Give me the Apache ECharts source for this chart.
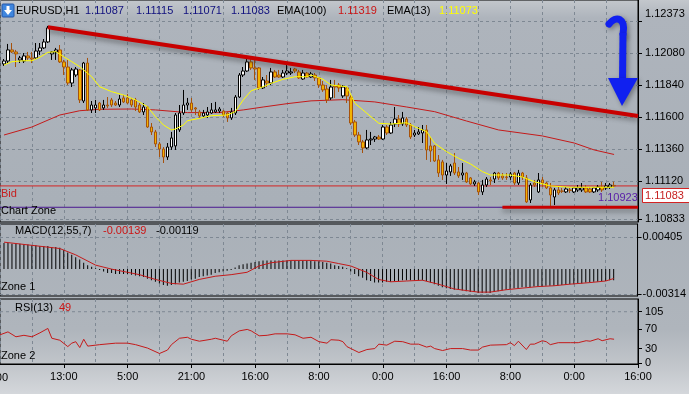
<!DOCTYPE html>
<html>
<head>
<meta charset="utf-8">
<script src="https://cdn.jsdelivr.net/npm/echarts@6/dist/echarts.min.js"></script>
<style>
html,body{margin:0;padding:0;}
body{width:689px;height:394px;overflow:hidden;
background:linear-gradient(to bottom,#c3c7cc 0px,#aeb4bc 18px,#a9b0b8 200px,#afb5bc 330px,#c2c6cb 366px,#d4d7db 394px);}
#chart{width:689px;height:394px;}
</style>
</head>
<body>
<div id="chart"></div>
<script>
// ---------------- DATA ----------------
const symbolName = 'EURUSD,H1';
// x tick labels, one every 16 hourly bars
const timeTickLabels = ['21:00','13:00','5:00','21:00','16:00','8:00','0:00','16:00','8:00','0:00','16:00'];
// price-axis labels and grid levels
const priceLabels = [1.12373, 1.12080, 1.11840, 1.11600, 1.11360, 1.11120, 1.10833];
const priceGrid   = [1.12320, 1.12080, 1.11840, 1.11600, 1.11360, 1.11120, 1.10833];
const macdLabels = [0.00405, -0.00314];
const rsiLabels = [105, 70, 30, 0];
const rsiGridLevel = 105;

// candles: [open, close, low, high]
const candles = [
[1.11998,1.12020,1.11983,1.12035],[1.12020,1.12103,1.12005,1.12148],[1.12103,1.12088,1.12080,1.12155],[1.12088,1.12073,1.11975,1.12103],
[1.12028,1.12043,1.12005,1.12058],[1.12020,1.12058,1.12005,1.12080],[1.12058,1.12043,1.12028,1.12088],[1.12043,1.12035,1.12005,1.12088],
[1.12043,1.12095,1.12035,1.12155],[1.12095,1.12118,1.12065,1.12155],[1.12118,1.12163,1.12110,1.12185],[1.12163,1.12268,1.12155,1.12283],
[1.12073,1.12088,1.12028,1.12095],[1.12088,1.12103,1.12028,1.12118],[1.12103,1.12013,1.12005,1.12140],[1.12013,1.11975,1.11915,1.12028],
[1.11975,1.11855,1.11840,1.12028],[1.11855,1.11953,1.11825,1.11968],[1.11915,1.11960,1.11900,1.11975],[1.11953,1.11728,1.11705,1.11960],
[1.11720,1.12005,1.11705,1.12013],[1.12005,1.11653,1.11645,1.12043],[1.11653,1.11690,1.11630,1.11720],[1.11668,1.11690,1.11630,1.11728],
[1.11705,1.11653,1.11645,1.11713],[1.11668,1.11690,1.11653,1.11728],[1.11690,1.11683,1.11668,1.11750],[1.11728,1.11690,1.11675,1.11743],
[1.11705,1.11690,1.11683,1.11720],[1.11690,1.11735,1.11675,1.11765],[1.11743,1.11713,1.11705,1.11765],[1.11743,1.11705,1.11698,1.11773],
[1.11728,1.11690,1.11675,1.11743],[1.11728,1.11675,1.11645,1.11743],[1.11690,1.11638,1.11630,1.11705],[1.11638,1.11675,1.11615,1.11705],
[1.11675,1.11525,1.11518,1.11683],[1.11525,1.11488,1.11465,1.11555],[1.11488,1.11398,1.11375,1.11503],[1.11398,1.11360,1.11300,1.11413],
[1.11360,1.11300,1.11255,1.11375],[1.11300,1.11375,1.11278,1.11405],[1.11375,1.11443,1.11353,1.11488],[1.11383,1.11615,1.11353,1.11630],
[1.11503,1.11630,1.11488,1.11690],[1.11630,1.11690,1.11615,1.11803],[1.11690,1.11705,1.11653,1.11743],[1.11705,1.11653,1.11638,1.11743],
[1.11668,1.11660,1.11615,1.11675],[1.11638,1.11608,1.11593,1.11653],[1.11608,1.11630,1.11593,1.11653],[1.11615,1.11638,1.11593,1.11675],
[1.11630,1.11653,1.11623,1.11705],[1.11638,1.11653,1.11630,1.11713],[1.11645,1.11660,1.11630,1.11675],[1.11645,1.11615,1.11600,1.11653],
[1.11630,1.11593,1.11563,1.11638],[1.11593,1.11638,1.11578,1.11668],[1.11630,1.11750,1.11615,1.11765],[1.11750,1.11915,1.11743,1.11930],
[1.11915,1.11945,1.11900,1.11975],[1.11945,1.12013,1.11938,1.12043],[1.12013,1.11968,1.11953,1.12035],[1.11968,1.11960,1.11878,1.12028],
[1.11968,1.11818,1.11803,1.11975],[1.11818,1.11878,1.11810,1.11900],[1.11870,1.11855,1.11825,1.11915],[1.11855,1.11938,1.11840,1.11968],
[1.11938,1.11900,1.11893,1.11953],[1.11915,1.11900,1.11893,1.11953],[1.11900,1.11930,1.11893,1.11953],[1.11930,1.11945,1.11915,1.11990],
[1.11930,1.11938,1.11915,1.11968],[1.11960,1.11945,1.11930,1.11968],[1.11938,1.11893,1.11885,1.11953],[1.11885,1.11930,1.11878,1.11953],
[1.11930,1.11900,1.11893,1.11938],[1.11900,1.11923,1.11893,1.11938],[1.11915,1.11893,1.11870,1.11930],[1.11893,1.11840,1.11818,1.11900],
[1.11840,1.11803,1.11788,1.11870],[1.11810,1.11728,1.11705,1.11840],[1.11743,1.11825,1.11728,1.11878],[1.11833,1.11825,1.11743,1.11878],
[1.11840,1.11818,1.11788,1.11855],[1.11758,1.11825,1.11743,1.11840],[1.11818,1.11758,1.11705,1.11825],[1.11750,1.11555,1.11540,1.11765],
[1.11563,1.11465,1.11450,1.11578],[1.11465,1.11413,1.11390,1.11488],[1.11413,1.11368,1.11330,1.11428],[1.11368,1.11428,1.11360,1.11503],
[1.11428,1.11435,1.11390,1.11488],[1.11435,1.11450,1.11413,1.11458],[1.11450,1.11435,1.11428,1.11465],[1.11435,1.11525,1.11428,1.11540],
[1.11525,1.11480,1.11465,1.11540],[1.11480,1.11540,1.11473,1.11563],[1.11548,1.11585,1.11525,1.11675],[1.11585,1.11548,1.11525,1.11615],
[1.11548,1.11593,1.11533,1.11638],[1.11585,1.11540,1.11525,1.11600],[1.11540,1.11450,1.11435,1.11555],[1.11465,1.11480,1.11450,1.11503],
[1.11473,1.11488,1.11465,1.11525],[1.11480,1.11503,1.11405,1.11540],[1.11503,1.11353,1.11278,1.11540],[1.11383,1.11345,1.11263,1.11450],
[1.11383,1.11270,1.11263,1.11390],[1.11278,1.11180,1.11150,1.11315],[1.11263,1.11165,1.11128,1.11278],[1.11165,1.11195,1.11098,1.11255],
[1.11188,1.11233,1.11158,1.11248],[1.11255,1.11180,1.11165,1.11330],[1.11188,1.11158,1.11143,1.11225],[1.11165,1.11180,1.11128,1.11255],
[1.11180,1.11113,1.11105,1.11188],[1.11143,1.11098,1.11090,1.11150],[1.11098,1.11113,1.11083,1.11128],[1.11105,1.11038,1.11015,1.11113],
[1.11038,1.11090,1.11015,1.11128],[1.11090,1.11135,1.11075,1.11150],[1.11128,1.11120,1.11090,1.11150],[1.11135,1.11180,1.11105,1.11188],
[1.11180,1.11143,1.11128,1.11188],[1.11158,1.11143,1.11128,1.11180],[1.11150,1.11147,1.11128,1.11180],[1.11150,1.11173,1.11128,1.11188],
[1.11180,1.11105,1.11090,1.11188],[1.11105,1.11180,1.11090,1.11203],[1.11180,1.11150,1.11128,1.11188],[1.11143,1.10963,1.10955,1.11165],
[1.10978,1.11090,1.10955,1.11105],[1.11105,1.11090,1.11075,1.11128],[1.11038,1.11128,1.11030,1.11180],[1.11128,1.11105,1.11075,1.11150],
[1.11105,1.11068,1.11060,1.11113],[1.11068,1.11015,1.10933,1.11105],[1.11000,1.11053,1.10940,1.11068],[1.11053,1.11030,1.11015,1.11075],
[1.11045,1.11043,1.11030,1.11068],[1.11038,1.11060,1.11030,1.11075],[1.11053,1.11050,1.11030,1.11068],[1.11038,1.11068,1.11030,1.11075],
[1.11053,1.11068,1.11038,1.11090],[1.11053,1.11068,1.11038,1.11105],[1.11068,1.11038,1.11030,1.11090],[1.11060,1.11038,1.11030,1.11075],
[1.11038,1.11068,1.11030,1.11075],[1.11053,1.11075,1.11038,1.11090],[1.11075,1.11053,1.11038,1.11113],[1.11068,1.11083,1.11053,1.11105],
[1.11075,1.11090,1.11060,1.11105],[1.11087,1.11083,1.11071,1.11115]
];
// EMA(100) read at selected bars: [barIndex, value]
const ema100 = [[1,1.11465],[8,1.11525],[15,1.11615],[20,1.11647],[25,1.11658],[33,1.11660],[39,1.11653],[47,1.11633],[55,1.11633],
[61,1.11653],[66,1.11675],[72,1.11700],[78,1.11721],[86,1.11730],[94,1.11713],[102,1.11675],[109,1.11640],[117,1.11570],[125,1.11503],
[136,1.11458],[144,1.11405],[149,1.11353],[154,1.11319]];
// EMA(13)
const ema13 = [[1,1.11990],[3,1.12015],[6,1.12022],[8,1.12022],[10,1.12048],[12,1.12085],[14,1.12090],[16,1.12052],[18,1.12015],
[20,1.11977],[23,1.11902],[25,1.11827],[28,1.11790],[31,1.11765],[34,1.11728],[37,1.11677],[39,1.11602],[41,1.11540],[43,1.11503],
[44,1.11510],[46,1.11540],[47,1.11572],[50,1.11590],[53,1.11610],[57,1.11615],[59,1.11640],[61,1.11728],[63,1.11797],[66,1.11827],
[68,1.11853],[71,1.11883],[74,1.11902],[77,1.11902],[78,1.11915],[81,1.11883],[83,1.11840],[87,1.11827],[89,1.11703],[92,1.11628],
[95,1.11553],[98,1.11547],[102,1.11557],[104,1.11527],[107,1.11490],[109,1.11403],[112,1.11340],[115,1.11290],[118,1.11248],
[121,1.11190],[123,1.11165],[128,1.11165],[131,1.11150],[134,1.11115],[138,1.11083],[143,1.11073],[148,1.11073],[154,1.11073]];
// hand-drawn / level lines
const trendLine = [[12,1.12273],[160,1.11607]];
const supportLevel = 1.10923;
const supportLine = [[126,supportLevel],[160,supportLevel]];
const bidPrice = 1.11083;
const fullSpan = [0, 160];
// MACD(12,55,7) histogram, one per bar
const macdHist = [
0.0033,0.0033,0.0032,0.0032,0.0032,0.0031,0.0031,0.0030,0.0030,0.0029,
0.0029,0.0029,0.0028,0.0028,0.0027,0.0024,0.0021,0.0018,0.0015,0.0012,
0.0008,0.0005,0.0003,0.0001,-0.0001,-0.0003,-0.0005,-0.0005,-0.0006,-0.0006,
-0.0006,-0.0006,-0.0007,-0.0008,-0.0009,-0.0010,-0.0012,-0.0014,-0.0016,-0.0018,
-0.0020,-0.0021,-0.0020,-0.0019,-0.0017,-0.0016,-0.0015,-0.0013,-0.0012,-0.0010,
-0.0009,-0.0008,-0.0007,-0.0005,-0.0004,-0.0003,-0.0002,-0.0001,0.0002,0.0005,
0.0006,0.0007,0.0008,0.0009,0.0010,0.0011,0.0011,0.0011,0.0011,0.0011,
0.0011,0.0011,0.0011,0.0011,0.0011,0.0011,0.0011,0.0011,0.0010,0.0010,
0.0009,0.0008,0.0007,0.0005,0.0004,0.0003,0.0001,-0.0003,-0.0006,-0.0009,
-0.0011,-0.0014,-0.0015,-0.0017,-0.0017,-0.0017,-0.0016,-0.0016,-0.0015,-0.0015,
-0.0014,-0.0014,-0.0014,-0.0014,-0.0014,-0.0014,-0.0015,-0.0017,-0.0019,-0.0021,
-0.0023,-0.0024,-0.0025,-0.0026,-0.0026,-0.0027,-0.0028,-0.0029,-0.0029,-0.0030,
-0.0030,-0.0030,-0.0030,-0.0029,-0.0028,-0.0027,-0.0026,-0.0025,-0.0024,-0.0024,
-0.0023,-0.0023,-0.0023,-0.0022,-0.0022,-0.0022,-0.0021,-0.0021,-0.0021,-0.0021,
-0.0020,-0.0020,-0.0019,-0.0019,-0.0018,-0.0018,-0.0017,-0.0017,-0.0016,-0.0016,
-0.0015,-0.0015,-0.0014,-0.00139];
const macdSignal = [[1,0.0034],[8,0.0030],[15,0.0026],[19,0.0018],[24,0.0005],[28,0.0],[32,-0.0004],[35,-0.0007],[39,-0.0013],
[43,-0.0018],[46,-0.0019],[50,-0.0013],[54,-0.0009],[58,-0.0007],[62,-0.0004],[65,0.0004],[68,0.0008],[73,0.0011],[78,0.0011],
[82,0.0010],[85,0.0007],[88,0.0004],[92,-0.0004],[95,-0.0013],[98,-0.0016],[102,-0.0015],[106,-0.0014],[110,-0.0019],[114,-0.0025],
[120,-0.0029],[123,-0.0029],[127,-0.0026],[131,-0.0024],[135,-0.0022],[139,-0.0021],[143,-0.0019],[148,-0.0017],[152,-0.0015],[154,-0.00119]];
// RSI(13)
const rsi = [[0,58],[2,64],[4,54],[6,57],[8,54],[10,62],[12,71],[13,51],[15,47],[17,34],[18,41],[19,44],[20,32],[21,49],[22,35],
[25,38],[29,41],[32,41],[34,38],[37,31],[40,20],[42,27],[43,38],[45,51],[47,53],[48,49],[50,45],[53,49],[54,51],[57,45],[58,56],
[60,66],[62,69],[63,66],[65,56],[67,57],[69,60],[72,60],[74,58],[76,51],[78,53],[80,44],[82,41],[83,48],[85,47],[86,44],[87,34],
[88,30],[90,22],[92,28],[94,30],[95,39],[97,37],[99,45],[101,44],[103,39],[105,39],[107,33],[108,35],[109,30],[111,26],[113,30],
[116,30],[118,27],[120,27],[121,33],[123,37],[127,38],[128,42],[129,36],[130,45],[132,28],[133,39],[134,39],[136,46],[137,44],
[138,38],[140,42],[143,42],[145,42],[147,46],[148,45],[150,50],[151,46],[153,50],[154,49]];

// ---------------- CHART ----------------
const N = 161; // category slots (bar 1..154 used)
const categories = Array.from({length: N}, (_, i) => String(i));
const candleData = categories.map((_, i) => (i >= 1 && i <= candles.length) ? candles[i-1] : '-');
const histData = categories.map((_, i) => (i >= 1 && i <= macdHist.length) ? macdHist[i-1] : '-');
// place [barIndex, value] readings on the category slots (other slots empty)
const place = (pairs) => { const a = categories.map(() => '-'); pairs.forEach(([k, v]) => { a[k] = v; }); return a; };
const level = (v) => place(fullSpan.map((k) => [k, v]));

const FONT = '"Liberation Sans", Arial, sans-serif';
const FS = 11;
const gridLine = {show: true, lineStyle: {color: '#7e8893', type: [3, 3], width: 1}};
const vSplit = {show: true, interval: (i) => i % 8 === 0, lineStyle: {color: '#7e8893', type: [3, 3], width: 1}};

function xAxisFor(gridIndex, bottom) {
  return {
    type: 'category', gridIndex, data: categories, boundaryGap: false,
    axisLine: {show: bottom, onZero: false, lineStyle: {color: '#000', width: 1}},
    axisTick: {show: bottom, interval: (i) => i % 16 === 0, length: 4, lineStyle: {color: '#000'}},
    axisLabel: {show: bottom, interval: (i) => i % 16 === 0, margin: 7, color: '#000', showMinLabel: false,
      fontFamily: FONT, fontSize: FS, formatter: (v, i) => timeTickLabels[Math.round(i / 16)] || ''},
    splitLine: vSplit
  };
}
function yAxisFor(gridIndex, min, max, ticks, labels, fmt, margin, split) {
  return {type: 'value', gridIndex, position: 'right', min, max,
    axisLine: {show: true, onZero: false, lineStyle: {color: '#000'}},
    axisTick: {show: true, customValues: ticks, length: 4, lineStyle: {color: '#000'}},
    axisLabel: {customValues: labels, formatter: fmt, color: '#000', fontFamily: FONT, fontSize: FS, margin},
    splitLine: split ? gridLine : {show: false}};
}

const last = candles[candles.length - 1];
const chart = echarts.init(document.getElementById('chart'), null, {renderer: 'canvas'});
const txt = (x, y, text, fill, align) => ({type: 'text', z: 100, x, y,
  style: {text, fill, font: FS + 'px ' + FONT, textVerticalAlign: 'middle', textAlign: align || 'left'}});
const arrowShadow = {shadowColor: 'rgba(0,0,0,0.35)', shadowBlur: 5, shadowOffsetX: 2, shadowOffsetY: 2};
const lineSeries = (data, gi, lineStyle, z) => ({type: 'line', xAxisIndex: gi, yAxisIndex: gi, data,
  connectNulls: true, showSymbol: false, silent: true, z, lineStyle});

chart.setOption({
  animation: false,
  backgroundColor: 'transparent',
  grid: [
    {left: 0, right: 51, top: 0, height: 222, show: true, borderColor: '#000', borderWidth: 1},
    {left: 0, right: 51, top: 224, height: 72, show: true, borderColor: '#000', borderWidth: 1},
    {left: 0, right: 51, top: 299, height: 65, show: true, borderColor: '#000', borderWidth: 1}
  ],
  xAxis: [xAxisFor(0, false), xAxisFor(1, false), xAxisFor(2, true)],
  yAxis: [
    yAxisFor(0, 1.108125, 1.124775, priceGrid, priceLabels, (v) => v.toFixed(5), 7, true),
    yAxisFor(1, -0.00339, 0.00569, macdLabels, macdLabels, (v) => v.toFixed(5), 5, true),
    yAxisFor(2, -1.4, 130.9, rsiLabels, rsiLabels, (v) => String(v), 7, false)
  ],
  series: [
    lineSeries(level(bidPrice), 0, {color: '#d42424', width: 1}, 1),
    lineSeries(level(supportLevel), 0, {color: '#4a1890', width: 1}, 1),
    lineSeries(place(ema100), 0, {color: '#c41a1a', width: 1}, 2),
    {type: 'candlestick', xAxisIndex: 0, yAxisIndex: 0, data: candleData, barWidth: 3, z: 3,
      itemStyle: {color: '#ffffff', color0: '#f2b300', borderColor: '#000000', borderColor0: '#a6520c', borderWidth: 1}},
    lineSeries(place(ema13), 0, {color: '#ffff00', width: 1}, 4),
    lineSeries(place(trendLine), 0, {color: '#c80000', width: 4, shadowColor: 'rgba(40,40,40,0.45)', shadowBlur: 5, shadowOffsetY: 3}, 5),
    lineSeries(place(supportLine), 0, {color: '#c80000', width: 3, shadowColor: 'rgba(40,40,40,0.45)', shadowBlur: 5, shadowOffsetY: 3}, 5),
    {type: 'bar', xAxisIndex: 1, yAxisIndex: 1, data: histData, barWidth: 1, itemStyle: {color: '#000'}, z: 2},
    lineSeries(place(macdSignal), 1, {color: '#c41a1a', width: 1}, 3),
    lineSeries(level(rsiGridLevel), 2, {color: '#7e8893', width: 1, type: [3, 3]}, 1),
    lineSeries(place(rsi), 2, {color: '#c41a1a', width: 1}, 3)
  ],
  graphic: [
    // top-left icon
    {type: 'rect', z: 100, shape: {x: 2, y: 4, width: 12, height: 13, r: 1},
      style: {fill: '#3f86de', stroke: '#2556a8'}},
    {type: 'polygon', z: 101, shape: {points: [[6.5, 6], [9.5, 6], [9.5, 10], [12, 10], [8, 15], [4, 10], [6.5, 10]]}, style: {fill: '#ffffff'}},
    txt(16, 11, symbolName, '#000'),
    txt(85, 11, last[0].toFixed(5), '#10107e'),
    txt(136, 11, last[3].toFixed(5), '#10107e'),
    txt(183, 11, last[2].toFixed(5), '#10107e'),
    txt(231, 11, last[1].toFixed(5), '#10107e'),
    txt(277, 11, 'EMA(100)', '#000'),
    txt(338, 11, ema100[ema100.length - 1][1].toFixed(5), '#cc1414'),
    txt(387, 11, 'EMA(13)', '#000'),
    txt(439, 11, ema13[ema13.length - 1][1].toFixed(5), '#ffff00'),
    // first time label, cut by the window edge
    txt(8, 378, timeTickLabels[0], '#000', 'right'),
    // level labels
    txt(1, 194, 'Bid', '#c62020'),
    txt(1, 211, 'Chart Zone', '#000'),
    // sub-window titles
    txt(15, 231, 'MACD(12,55,7)', '#000'),
    txt(103, 231, macdHist[macdHist.length - 1].toFixed(5), '#cc1414'),
    txt(156, 231, macdSignal[macdSignal.length - 1][1].toFixed(5), '#000'),
    txt(1, 287, 'Zone 1', '#000'),
    txt(15, 308, 'RSI(13)', '#000'),
    txt(59, 308, String(rsi[rsi.length - 1][1]), '#cc1414'),
    txt(1, 356, 'Zone 2', '#000'),
    // support level text
    txt(598, 198, supportLevel.toFixed(5), '#5a20a8'),
    // bid price box on the axis
    {type: 'rect', z: 100, shape: {x: 642.5, y: 188.5, width: 47, height: 14}, style: {fill: '#ffffff', stroke: '#d42424', lineWidth: 1}},
    txt(645, 195.5, bidPrice.toFixed(5), '#c62020'),
    // blue hand-drawn arrow
    {type: 'bezierCurve', z: 110, shape: {x1: 609, y1: 24, cpx1: 616, cpy1: 15, cpx2: 626, cpy2: 18, x2: 623, y2: 34},
      style: Object.assign({fill: null, stroke: '#1020f0', lineWidth: 7, lineCap: 'round'}, arrowShadow)},
    {type: 'line', z: 110, shape: {x1: 623, y1: 33, x2: 622.5, y2: 82},
      style: Object.assign({stroke: '#1020f0', lineWidth: 7}, arrowShadow)},
    {type: 'polygon', z: 111, shape: {points: [[608, 78], [638, 78], [622, 106]]},
      style: Object.assign({fill: '#1020f0'}, arrowShadow)}
  ]
});
</script>
</body>
</html>
